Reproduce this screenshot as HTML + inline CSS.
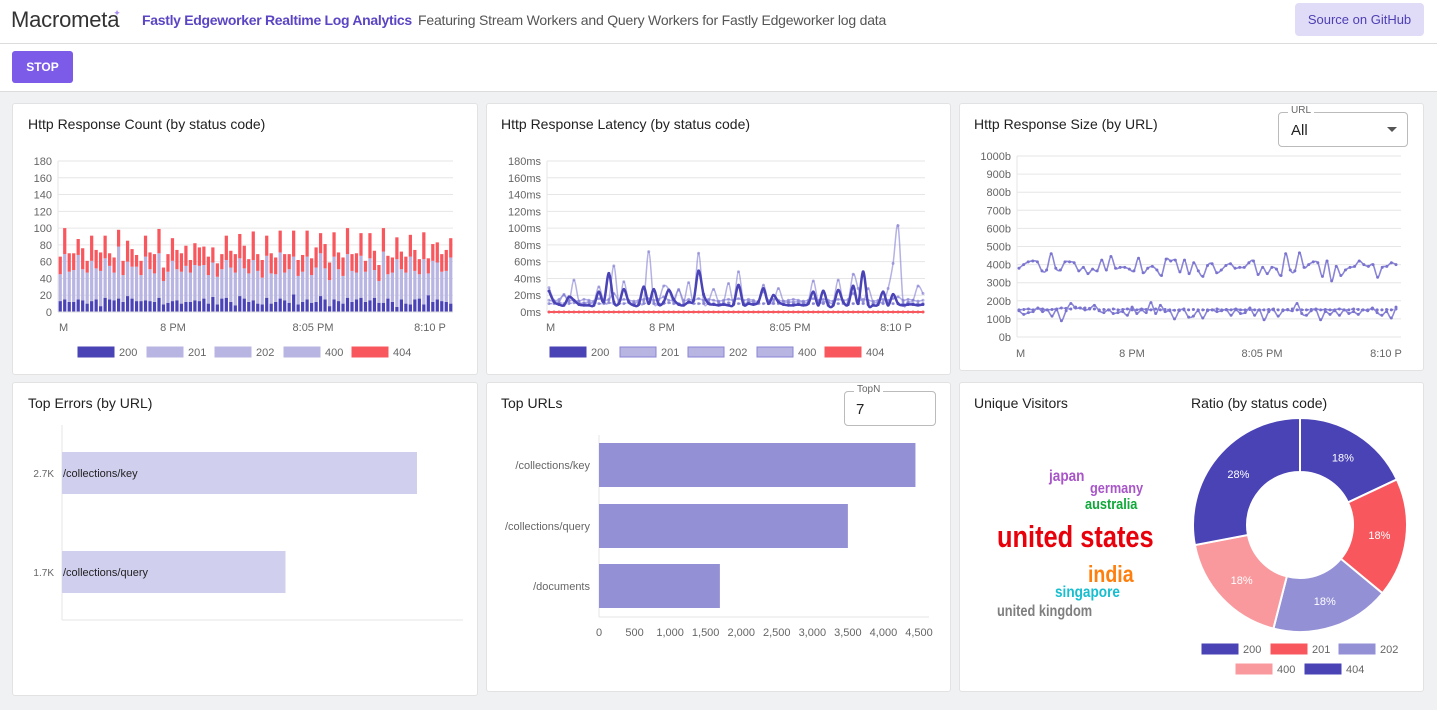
<!DOCTYPE html>
<html><head><meta charset="utf-8">
<style>
*{box-sizing:border-box;margin:0;padding:0}
body{width:1437px;height:710px;overflow:hidden;background:#f0f1f3;font-family:"Liberation Sans",sans-serif;position:relative}
#hdr{position:absolute;left:0;top:0;width:1437px;height:44px;background:#fff;border-bottom:1px solid #dcdcdc}
#bar{position:absolute;left:0;top:44px;width:1437px;height:48px;background:#fff;border-bottom:1px solid #dcdcdc}
.panel{position:absolute;background:#fff;border:1px solid #e2e2e2;border-radius:3px}
.ttl{position:absolute;font-size:14px;color:#222}
svg text{font-family:"Liberation Sans",sans-serif}
</style></head><body>
<div id="hdr">
  <div style="position:absolute;left:11px;top:7px;font-size:22px;color:#333;letter-spacing:-0.2px">Macrometa<span style="color:#a98ef0;font-size:9px;position:relative;top:-11px;left:-6px">✦</span></div>
  <div style="position:absolute;left:142px;top:12px;font-size:14px;color:#5b45c4;font-weight:bold;letter-spacing:-0.3px">Fastly Edgeworker Realtime Log Analytics</div>
  <div style="position:absolute;left:418px;top:12px;font-size:14px;color:#555;letter-spacing:-0.2px">Featuring Stream Workers and Query Workers for Fastly Edgeworker log data</div>
  <div style="position:absolute;left:1295px;top:3px;width:129px;height:33px;background:#e0dcf7;border-radius:4px;color:#4d3fb3;font-size:13px;line-height:33px;text-align:center">Source on GitHub</div>
</div>
<div id="bar">
  <div style="position:absolute;left:12px;top:7px;width:61px;height:32px;background:#7c5be8;border-radius:3px;color:#fff;font-size:12px;font-weight:bold;line-height:32px;text-align:center">STOP</div>
</div>
<div class="panel" style="left:12px;top:103px;width:466px;height:272px"><div class="ttl" style="left:15px;top:12px">Http Response Count (by status code)</div></div>
<div class="panel" style="left:486px;top:103px;width:465px;height:272px"><div class="ttl" style="left:14px;top:12px">Http Response Latency (by status code)</div></div>
<div class="panel" style="left:959px;top:103px;width:465px;height:268px"><div class="ttl" style="left:14px;top:12px">Http Response Size (by URL)</div>
  <div style="position:absolute;left:318px;top:8px;width:130px;height:35px;border:1px solid #bbb;border-radius:4px">
    <span style="position:absolute;left:9px;top:-8px;background:#fff;padding:0 3px;font-size:10px;color:#666">URL</span>
    <span style="position:absolute;left:12px;top:9px;font-size:15px;color:#222">All</span>
    <span style="position:absolute;right:10px;top:14px;width:0;height:0;border-left:5px solid transparent;border-right:5px solid transparent;border-top:5px solid #555"></span>
  </div>
</div>
<div class="panel" style="left:12px;top:382px;width:466px;height:314px"><div class="ttl" style="left:15px;top:12px">Top Errors (by URL)</div></div>
<div class="panel" style="left:486px;top:382px;width:465px;height:310px"><div class="ttl" style="left:14px;top:12px">Top URLs</div>
  <div style="position:absolute;left:357px;top:8px;width:92px;height:35px;border:1px solid #bbb;border-radius:4px">
    <span style="position:absolute;left:9px;top:-8px;background:#fff;padding:0 3px;font-size:10px;color:#666">TopN</span>
    <span style="position:absolute;left:11px;top:9px;font-size:15px;color:#222">7</span>
  </div>
</div>
<div class="panel" style="left:959px;top:382px;width:465px;height:310px">
  <div class="ttl" style="left:14px;top:12px">Unique Visitors</div>
  <div class="ttl" style="left:231px;top:12px">Ratio (by status code)</div>
</div>
<svg id="charts" width="1437" height="710" style="position:absolute;left:0;top:0"></svg>
<script>
// ---- Chart 1: count
const countTotal=[66,100,70,70,87,76,61,91,74,71,91,70,65,98,61,85,75,68,61,91,71,69,99,53,69,88,74,70,79,62,82,77,78,66,77,58,69,91,73,69,93,79,63,96,69,62,91,70,65,97,69,69,97,62,68,97,64,77,94,81,59,95,71,65,100,69,70,94,61,94,73,56,100,67,65,89,72,66,92,74,63,95,64,81,83,69,74,88];
const countLav=[45,69,48,50,68,51,47,61,52,49,64,55,47,78,44,60,54,54,44,66,51,46,70,37,48,61,51,48,55,47,56,55,56,44,59,42,51,62,53,47,64,52,46,62,49,41,67,46,45,71,47,51,66,43,48,66,44,53,70,52,38,66,51,43,69,49,47,67,48,64,50,37,72,45,47,63,51,47,66,49,45,63,46,61,59,48,49,65];
const count200=[13,15,12,12,15,14,10,13,15,7,17,15,14,16,12,19,16,13,13,14,13,12,17,9,11,13,14,10,12,12,14,13,16,10,18,9,16,17,12,8,19,16,12,14,10,9,17,10,12,16,14,11,21,9,12,15,11,12,19,15,7,15,13,10,17,12,15,17,12,14,17,11,11,16,12,6,15,10,9,15,16,9,20,12,15,13,12,10];
const countTicks=[0,20,40,60,80,100,120,140,160,180];
// ---- Chart 2: latency
const lat200=[25,12,9,8,18,14,9,8,8,8,24,12,46,12,10,27,12,8,9,30,10,27,9,12,26,15,9,8,12,14,49,21,10,9,8,9,8,9,32,9,10,9,12,28,10,20,12,9,8,8,9,8,10,24,8,25,8,8,26,12,9,31,10,48,9,8,9,24,8,21,10,8,9,9,8,9];
const lat201=[29,14,12,21,12,38,13,11,12,12,30,12,14,55,12,36,12,11,12,13,72,12,14,31,27,12,27,12,35,13,70,12,13,27,12,12,34,12,48,12,13,12,12,32,12,12,28,13,12,12,12,12,13,37,12,12,12,12,38,12,13,45,28,12,28,12,12,12,28,58,103,13,12,14,31,22];
const lat202=[14,13,15,20,14,14,13,15,14,13,16,14,15,22,14,15,14,13,14,15,16,14,15,18,14,15,26,14,15,14,16,14,15,14,13,14,15,14,16,14,15,14,13,24,14,15,14,13,14,15,14,13,14,16,14,15,14,13,15,14,15,22,14,15,14,13,14,15,14,16,18,14,15,14,13,14];
const lat400=[10,10,11,10,10,11,10,10,10,11,10,10,11,10,10,10,11,10,10,10,11,10,10,10,11,10,10,10,11,10,10,10,11,10,10,10,11,10,10,10,11,10,10,10,11,10,10,10,11,10,10,10,11,10,10,10,11,10,10,10,11,10,10,10,11,10,10,10,11,10,10,10,11,10,10,10];
const lat404=[0,0,0,0,0,0,0,0,0,0,0,0,0,0,0,0,0,0,0,0,0,0,0,0,0,0,0,0,0,0,0,0,0,0,0,0,0,0,0,0,0,0,0,0,0,0,0,0,0,0,0,0,0,0,0,0,0,0,0,0,0,0,0,0,0,0,0,0,0,0,0,0,0,0,0,0];
const latTicks=[0,20,40,60,80,100,120,140,160,180];
// ---- Chart 3: size
const sizeA=[380,400,415,420,415,365,370,460,380,370,415,415,410,365,385,350,375,365,425,370,445,380,385,385,375,365,435,355,380,390,370,340,430,420,425,360,425,350,410,365,335,395,405,355,370,395,405,380,385,385,410,420,345,385,350,385,375,340,460,370,365,465,385,400,415,410,335,420,310,390,340,370,385,390,420,400,390,400,330,385,390,410,400];
const sizeB=[145,125,135,140,160,140,150,115,150,90,145,185,160,160,150,155,175,145,135,150,130,135,140,120,165,130,150,135,190,130,175,140,145,100,145,150,110,115,145,105,145,150,140,145,150,120,150,130,135,160,120,150,95,140,150,115,145,150,145,185,130,120,145,150,95,140,125,145,120,150,130,140,125,150,145,160,135,120,140,105,165];
const sizeC=[150,152,155,150,158,155,150,152,155,160,158,155,165,160,160,158,155,150,152,150,155,150,152,155,150,150,155,152,150,155,150,152,150,148,150,155,150,152,150,150,150,150,155,150,152,150,155,150,150,152,150,150,150,152,155,150,150,152,155,150,150,150,152,155,150,152,150,150,155,150,150,155,152,150,150,155,150,150,152,150,155];
const sizeTicks=[0,100,200,300,400,500,600,700,800,900,1000];
const timeLabels=["M","8 PM","8:05 PM","8:10 P"];
// ---- Bottom
const errUrls=["/collections/key","/collections/query"];
const errCounts=[2700,1700];
const errLabels=["2.7K","1.7K"];
const topUrls=["/collections/key","/collections/query","/documents"];
const topCounts=[4450,3500,1700];
const topTicks=[0,500,1000,1500,2000,2500,3000,3500,4000,4500];
const ratioCodes=["200","201","202","400","404"];
const ratioVals=[18,18,18,18,28];
const ratioColors=["#4a43b6","#f9575e","#9490d6","#f9999d","#4a43b6"];

const NS="http://www.w3.org/2000/svg";
const svg=document.getElementById('charts');
function mk(tag,attrs,parent){const e=document.createElementNS(NS,tag);for(const k in attrs)e.setAttribute(k,attrs[k]);(parent||svg).appendChild(e);return e;}
function lin(d0,d1,r0,r1){return v=>r0+(v-d0)*(r1-r0)/(d1-d0);}
function txt(x,y,s,attrs){const t=mk('text',Object.assign({x:x,y:y,'font-size':11,fill:'#666'},attrs||{}));t.textContent=s;return t;}
function smooth(pts){let d='M'+pts[0][0]+','+pts[0][1];for(let i=0;i<pts.length-1;i++){const p0=pts[i-1]||pts[i],p1=pts[i],p2=pts[i+1],p3=pts[i+2]||p2;const c1x=p1[0]+(p2[0]-p0[0])/6,c1y=p1[1]+(p2[1]-p0[1])/6,c2x=p2[0]-(p3[0]-p1[0])/6,c2y=p2[1]-(p3[1]-p1[1])/6;d+=` C${c1x},${c1y} ${c2x},${c2y} ${p2[0]},${p2[1]}`;}return d;}
function grid(ticks,y,x0,x1,fmt,name){ticks.forEach(t=>{const l=mk('line',{x1:x0,x2:x1,y1:y(t),y2:y(t),stroke:'#e6e6e6'});


const tt=txt(x0-6,y(t)+4,fmt(t),{'text-anchor':'end'});

});
const ax=mk('line',{x1:x0,x2:x0,y1:y(ticks[ticks.length-1]),y2:y(0),stroke:'#e6e6e6'});

}
function xlabels(xs,y){timeLabels.forEach((s,i)=>{const t=txt(xs[i],y,s,{'text-anchor':i==0?'start':'middle','font-size':11});

});}
function legend(items,y){items.forEach(it=>{const r=mk('rect',{x:it.x,y:y-5,width:36,height:10,fill:it.c,stroke:it.s||it.c});


const t=txt(it.x+41,y+4,it.n,{'font-size':11});

});}

// Chart 1
(function(){const X0=58,X1=453,y=lin(0,180,312,161);grid(countTicks,y,X0,X1,v=>v,'count');
const n=countTotal.length,step=(X1-X0)/n,bw=step*0.72;
for(let i=0;i<n;i++){const x=X0+i*step+(step-bw)/2;
const a=mk('rect',{x:x,y:y(count200[i]),width:bw,height:y(0)-y(count200[i]),fill:'#4a43b6'});


const b=mk('rect',{x:x,y:y(countLav[i]),width:bw,height:y(count200[i])-y(countLav[i]),fill:'#b8b5e3'});


const c=mk('rect',{x:x,y:y(countTotal[i]),width:bw,height:y(countLav[i])-y(countTotal[i]),fill:'#f9575e'});

}
mk('line',{x1:X0,x2:X1,y1:y(0),y2:y(0),stroke:'#ddd'});
xlabels([59,173,313,430],331);
legend([{x:78,c:'#4a43b6',n:'200'},{x:147,c:'#b8b5e3',n:'201'},{x:215,c:'#b8b5e3',n:'202'},{x:284,c:'#b8b5e3',n:'400'},{x:352,c:'#f9575e',n:'404'}],352);})();

// Chart 2
(function(){const X0=547,X1=925,y=lin(0,180,312,161);grid(latTicks,y,X0,X1,v=>v+'ms','latency');
function series(arr,col,w,name,dash){const x=lin(0,arr.length-1,X0+2,X1-2);const pts=arr.map((v,i)=>[x(i),y(v)]);
const p=mk('path',{d:smooth(pts),fill:'none',stroke:col,'stroke-width':w});if(dash)p.setAttribute('stroke-dasharray',dash);


pts.forEach(q=>{const c=mk('circle',{cx:q[0],cy:q[1],r:1.5,fill:col});

});}
series(lat400,'rgba(130,125,210,0.75)',1.5,'400','3,2');
series(lat202,'rgba(130,125,210,0.6)',1.5,'202');
series(lat201,'rgba(130,125,210,0.6)',1.5,'201');
series(lat404,'#f9575e',2,'404');
series(lat200,'#4a43b6',2.5,'200');
xlabels([546,662,790,896],331);
legend([{x:550,c:'#4a43b6',n:'200'},{x:620,c:'#b8b5e3',s:'#8a85d6',n:'201'},{x:688,c:'#b8b5e3',s:'#8a85d6',n:'202'},{x:757,c:'#b8b5e3',s:'#8a85d6',n:'400'},{x:825,c:'#f9575e',n:'404'}],352);})();

// Chart 3
(function(){const X0=1017,X1=1401,y=lin(0,1000,337,156);grid(sizeTicks,y,X0,X1,v=>v+'b','size');
function series(arr,name,dash){const x=lin(0,arr.length-1,X0+2,X1-5);const pts=arr.map((v,i)=>[x(i),y(v)]);
const p=mk('path',{d:smooth(pts),fill:'none',stroke:'#8a85d6','stroke-width':1.6});if(dash)p.setAttribute('stroke-dasharray',dash);


pts.forEach(q=>{const c=mk('circle',{cx:q[0],cy:q[1],r:1.5,fill:'#7a74cf'});

});}
series(sizeC,'c','3,2');series(sizeB,'b');series(sizeA,'a');
xlabels([1016,1132,1262,1386],357);})();

// Top errors
(function(){const X0=62,x=lin(0,3050,62,463);
mk('line',{x1:X0,x2:X0,y1:425,y2:620,stroke:'#e6e6e6'});mk('line',{x1:X0,x2:463,y1:620,y2:620,stroke:'#e6e6e6'});
const ys=[452,551];errCounts.forEach((v,i)=>{const r=mk('rect',{x:X0,y:ys[i],width:x(v)-X0,height:42,fill:'#d0cfee'});


const l=txt(X0+1,ys[i]+25,errUrls[i],{'font-size':11,fill:'#222'});


const v2=txt(54,ys[i]+25,errLabels[i],{'text-anchor':'end','font-size':10});

});})();

// Top URLs
(function(){const X0=599,x=lin(0,4500,599,919);
mk('line',{x1:X0,x2:X0,y1:435,y2:617,stroke:'#e6e6e6'});mk('line',{x1:X0,x2:929,y1:617,y2:617,stroke:'#e6e6e6'});
const ys=[443,504,564];topCounts.forEach((v,i)=>{const r=mk('rect',{x:X0,y:ys[i],width:x(v)-X0,height:44,fill:'#9490d6'});


const l=txt(590,ys[i]+26,topUrls[i],{'text-anchor':'end','font-size':11});

});
topTicks.forEach(t=>{const l=txt(x(t),636,t.toLocaleString('en-US'),{'text-anchor':'middle','font-size':11});

});})();

// Word cloud
[["japan",1049,481,16,"#a855c8",0.85],["germany",1090,493,15,"#a855c8",0.85],["australia",1085,509,15,"#10a83a",0.85],["united states",997,547,31,"#e8000b",0.82],["india",1088,582,23,"#ff7f0e",0.85],["singapore",1055,597,16,"#17becf",0.85],["united kingdom",997,616,16,"#7f7f7f",0.8]].forEach(w=>{
const t=mk('text',{x:0,y:0,'font-size':w[3],'font-weight':'bold',fill:w[4],transform:`translate(${w[1]},${w[2]}) scale(${w[5]},1)`});t.textContent=w[0];

});

// Donut
(function(){const cx=1300,cy=525,R=107,r=53;const tot=ratioVals.reduce((a,b)=>a+b,0);let a0=0;
ratioVals.forEach((v,i)=>{const a1=a0+v/tot*2*Math.PI;const P=(rad,a)=>[cx+rad*Math.sin(a),cy-rad*Math.cos(a)];
const p1=P(R,a0),p2=P(R,a1),p3=P(r,a1),p4=P(r,a0),lg=(a1-a0)>Math.PI?1:0;
const p=mk('path',{d:`M${p1} A${R},${R} 0 ${lg} 1 ${p2} L${p3} A${r},${r} 0 ${lg} 0 ${p4}Z`,fill:ratioColors[i],stroke:'#fff','stroke-width':2});


const m=P((R+r)/2,(a0+a1)/2);const t=txt(m[0],m[1]+4,v+'%',{'text-anchor':'middle','font-size':11,fill:'#fff'});

a0=a1;});
legend([{x:1202,c:ratioColors[0],n:ratioCodes[0]},{x:1271,c:ratioColors[1],n:ratioCodes[1]},{x:1339,c:ratioColors[2],n:ratioCodes[2]}],649);
legend([{x:1236,c:ratioColors[3],n:ratioCodes[3]},{x:1305,c:ratioColors[4],n:ratioCodes[4]}],669);})();
</script>
</body></html>
